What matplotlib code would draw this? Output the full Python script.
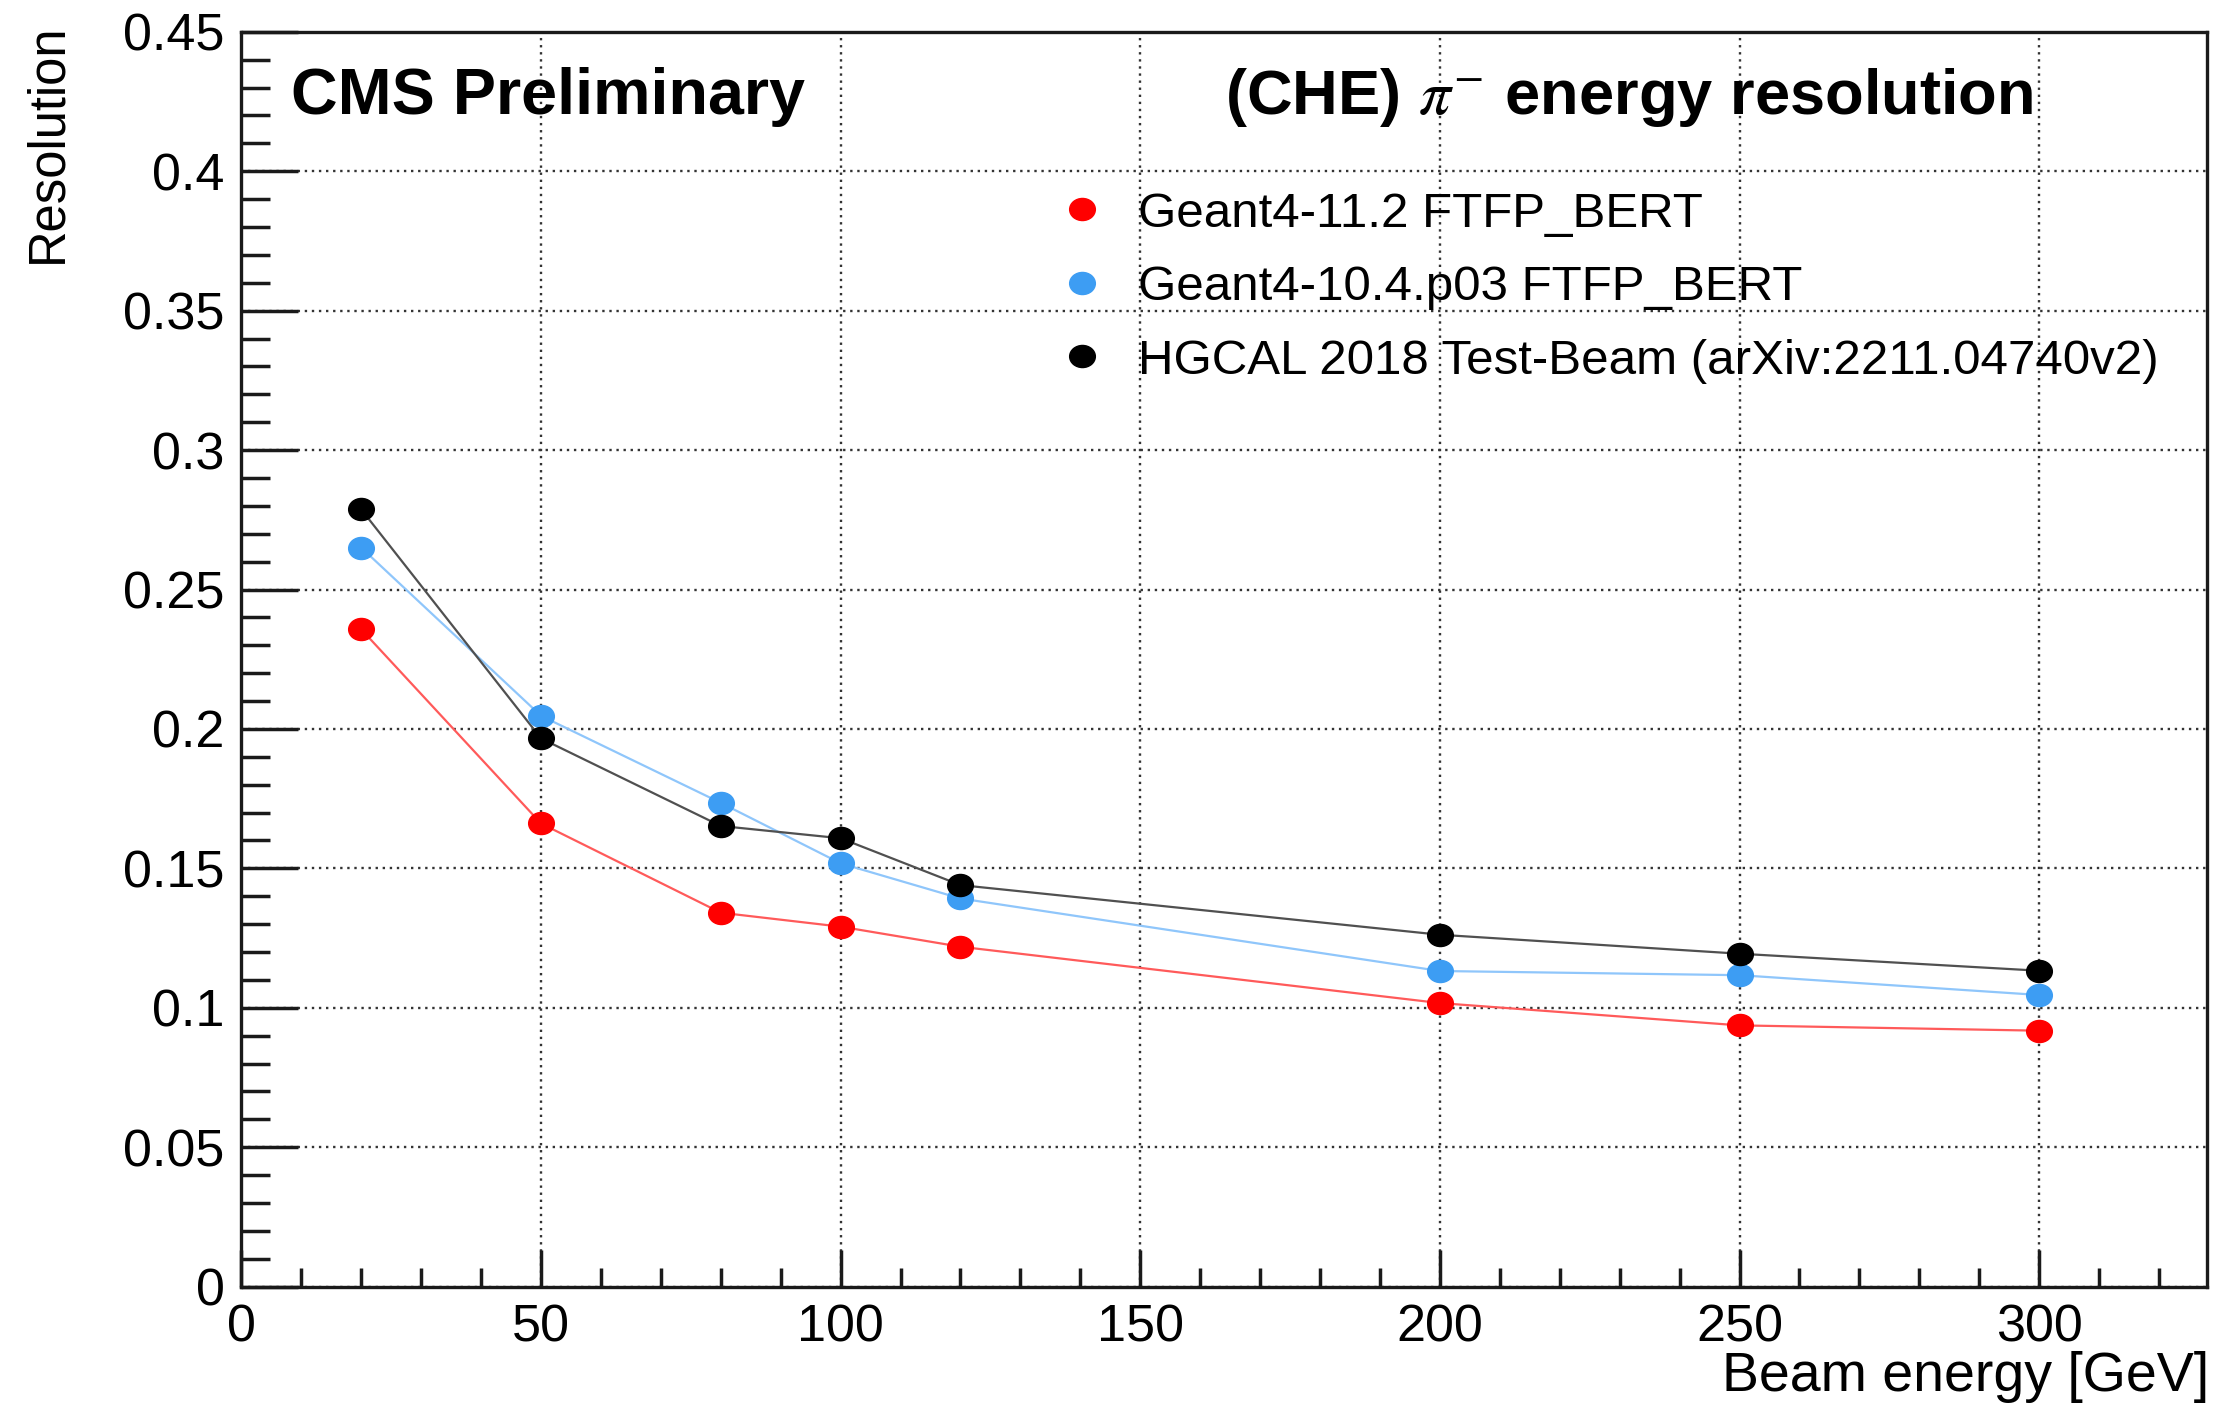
import matplotlib
matplotlib.use("Agg")
import matplotlib.pyplot as plt
from matplotlib.lines import Line2D
from matplotlib.path import Path
from matplotlib.ticker import MultipleLocator
import numpy as np

plt.rcParams['font.family'] = ['Liberation Sans', 'DejaVu Sans']
plt.rcParams['mathtext.fontset'] = 'stix'

# ---- data ----
energy = [20, 50, 80, 100, 120, 200, 250, 300]
res_g4_11_2 = [0.2357, 0.1661, 0.1341, 0.1291, 0.1219, 0.1017, 0.0937, 0.0918]
res_g4_10_4 = [0.2650, 0.2047, 0.1735, 0.1518, 0.1392, 0.1132, 0.1117, 0.1046]
res_testbeam = [0.2787, 0.1966, 0.1652, 0.1608, 0.1440, 0.1262, 0.1194, 0.1133]

labels = ["Geant4-11.2 FTFP_BERT",
          "Geant4-10.4.p03 FTFP_BERT",
          "HGCAL 2018 Test-Beam (arXiv:2211.04740v2)"]
marker_colors = ["#ff0000", "#3d9df3", "#000000"]
line_colors = ["#ff5a5a", "#8fc6fb", "#505050"]

xticks = [0, 50, 100, 150, 200, 250, 300]
xticklabels = ["0", "50", "100", "150", "200", "250", "300"]
yticks = [0, 0.05, 0.1, 0.15, 0.2, 0.25, 0.3, 0.35, 0.4, 0.45]
yticklabels = ["0", "0.05", "0.1", "0.15", "0.2", "0.25", "0.3", "0.35", "0.4", "0.45"]

# slightly wide elliptical marker
circ = Path.unit_circle()
ell = Path(circ.vertices * np.array([1.0, 0.86]), circ.codes)

fig = plt.figure(figsize=(22.29, 14.11), dpi=100)
ax = fig.add_axes([0.1083, 0.0881, 0.9901 - 0.1083, 0.9775 - 0.0881])

series = [res_g4_11_2, res_g4_10_4, res_testbeam]
for ys, mc, lc in zip(series, marker_colors, line_colors):
    ax.plot(energy, ys, color=lc, lw=1.6, zorder=3)
    ax.plot(energy, ys, linestyle='none', marker=ell, markersize=18.5,
            markerfacecolor=mc, markeredgecolor=mc, zorder=4)

ax.set_xlim(0, 328)
ax.set_ylim(0, 0.45)
ax.set_xticks(xticks)
ax.set_xticklabels(xticklabels)
ax.set_yticks(yticks)
ax.set_yticklabels(yticklabels)
ax.xaxis.set_minor_locator(MultipleLocator(10))
ax.yaxis.set_minor_locator(MultipleLocator(0.01))

ax.tick_params(axis='both', which='both', direction='in', width=2.5, color='#1a1a1a',
               labelsize=37.5, top=False, right=False)
ax.tick_params(axis='y', which='major', length=41, pad=12)
ax.tick_params(axis='y', which='minor', length=21)
ax.tick_params(axis='x', which='major', length=27, pad=12)
ax.tick_params(axis='x', which='minor', length=14)

for sp in ax.spines.values():
    sp.set_linewidth(2.4)
    sp.set_color('#1a1a1a')

ax.grid(True, which='major', linestyle=(0, (1, 2.0)), color='#333333', lw=1.7, zorder=1)
ax.set_axisbelow(True)

ax.set_ylabel("Resolution", fontsize=36.5, loc='top')
ax.yaxis.set_label_coords(-0.086, 1.0065)
ax.set_xlabel("Beam energy [GeV]", fontsize=40, loc='right')
ax.xaxis.set_label_coords(1.001, -0.051)

ax.text(0.0252, 0.9344, "CMS Preliminary", transform=ax.transAxes,
        fontsize=46.5, fontweight='bold', ha='left', va='baseline')
ax.text(0.5004, 0.9344, r"(CHE) $\pi^{-}$ energy resolution", transform=ax.transAxes,
        fontsize=45.5, fontweight='bold', ha='left', va='baseline')

handles = [Line2D([], [], linestyle='none', marker=ell, markersize=18.5,
                  markerfacecolor=c, markeredgecolor=c) for c in marker_colors]
ax.legend(handles, labels, loc='upper left', bbox_to_anchor=(0.4175, 0.8727),
          frameon=False, fontsize=35.5, handlelength=0.8, handletextpad=0.75,
          labelspacing=0.58, borderpad=0, borderaxespad=0)

fig.savefig("out.png", dpi=100)
